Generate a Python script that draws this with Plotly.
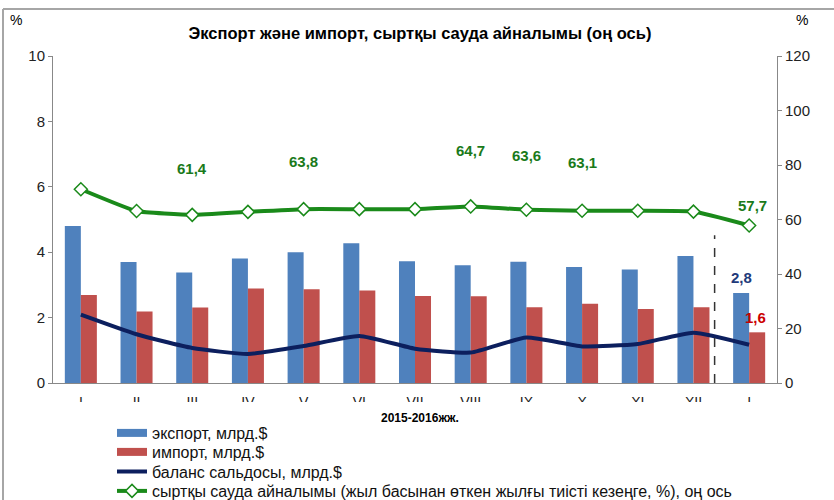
import plotly.graph_objects as go

months = ["I", "II", "III", "IV", "V", "VI", "VII", "VIII", "IX", "X", "XI", "XII", "I"]
export_vals = [4.80, 3.70, 3.38, 3.81, 4.00, 4.27, 3.72, 3.60, 3.71, 3.55, 3.47, 3.88, 2.75]
import_vals = [2.69, 2.19, 2.31, 2.89, 2.87, 2.83, 2.66, 2.65, 2.32, 2.42, 2.26, 2.32, 1.55]
balance_vals = [2.09, 1.49, 1.07, 0.89, 1.13, 1.44, 1.05, 0.93, 1.39, 1.12, 1.19, 1.54, 1.17]
turnover_vals = [71.1, 63.1, 61.7, 62.8, 63.8, 63.8, 63.8, 64.8, 63.6, 63.2, 63.2, 62.9, 57.8]
turnover_labels = ["", "", "61,4", "", "63,8", "", "", "64,7", "63,6", "63,1", "", "", "57,7"]
last_export_label = "2,8"
last_import_label = "1,6"

names = ["экспорт, млрд.$", "импорт, млрд.$", "баланс сальдосы, млрд.$",
         "сыртқы сауда айналымы (жыл басынан өткен жылғы тиісті кезеңге, %), оң ось"]

FONT = "Liberation Sans, Arial, sans-serif"
BLUE, RED, NAVY, GREEN = "#4F81BD", "#C0504D", "#0C1F5E", "#1A8A1A"
xs = list(range(len(months)))

fig = go.Figure()
fig.add_trace(go.Bar(x=xs, y=export_vals, name=names[0], marker_color=BLUE,
                     marker_line_width=0, showlegend=False))
fig.add_trace(go.Bar(x=xs, y=import_vals, name=names[1], marker_color=RED,
                     marker_line_width=0, showlegend=False))
# legend-only entries drawn as wide bands, like the reference's legend keys
fig.add_trace(go.Scatter(x=[None], y=[None], name=names[0], mode="lines",
                         line=dict(color=BLUE, width=8), legend="legend"))
fig.add_trace(go.Scatter(x=[None], y=[None], name=names[1], mode="lines",
                         line=dict(color=RED, width=8), legend="legend2"))
fig.add_trace(go.Scatter(x=xs, y=balance_vals, name=names[2], mode="lines", legend="legend3",
                         line=dict(color=NAVY, width=4, shape="spline", smoothing=0.5)))
fig.add_trace(go.Scatter(x=xs, y=turnover_vals, name=names[3], mode="lines+markers", yaxis="y2",
                         legend="legend4",
                         line=dict(color=GREEN, width=4, shape="spline", smoothing=0.4),
                         marker=dict(symbol="diamond", size=10, color="white",
                                     line=dict(color=GREEN, width=1.5))))

annotations = []
shifts = [0, 0, 46, 0, 48, 0, 0, 56, 54, 48, 0, 0, 20]
for i, lab in enumerate(turnover_labels):
    if lab:
        annotations.append(dict(x=i, y=turnover_vals[i], yref="y2", text=f"<b>{lab}</b>",
                                showarrow=False, yshift=shifts[i], xshift=3 if i == 12 else 0,
                                font=dict(family=FONT, size=15, color="#1A7A1A")))
annotations.append(dict(x=12, y=export_vals[12], xshift=-8, yshift=16, showarrow=False,
                        text=f"<b>{last_export_label}</b>",
                        font=dict(family=FONT, size=15, color="#1F3A7A")))
annotations.append(dict(x=12, y=import_vals[12], xshift=6, yshift=15, showarrow=False,
                        text=f"<b>{last_import_label}</b>",
                        font=dict(family=FONT, size=15, color="#CC0000")))
annotations.append(dict(xref="paper", yref="paper", x=(420 - 53) / 724, y=(383 - 418) / 327,
                        xanchor="center", yanchor="middle",
                        text="<b>2015-2016жж.</b>", showarrow=False,
                        font=dict(family=FONT, size=12, color="black")))
annotations.append(dict(xref="paper", yref="paper", x=(16 - 53) / 724, y=(383 - 20) / 327,
                        xanchor="center", yanchor="middle",
                        text="%", showarrow=False, font=dict(family=FONT, size=14, color="black")))
annotations.append(dict(xref="paper", yref="paper", x=(802 - 53) / 724, y=(383 - 20) / 327,
                        xanchor="center", yanchor="middle",
                        text="%", showarrow=False, font=dict(family=FONT, size=14, color="black")))

shapes = [
    dict(type="line", xref="x", yref="y", x0=11.38, x1=11.38, y0=0, y1=4.52,
         line=dict(color="#333333", width=1.5, dash="dash")),
    dict(type="rect", xref="paper", yref="paper", layer="above",
         x0=-0.07, x1=1.1, y0=(383 - 425) / 327, y1=(383 - 402) / 327,
         fillcolor="white", line=dict(width=0)),
    dict(type="line", xref="paper", yref="paper", x0=(3 - 53) / 724, x1=(840 - 53) / 724,
         y0=(383 - 9) / 327, y1=(383 - 9) / 327, line=dict(color="#A6A6A6", width=2)),
    dict(type="line", xref="paper", yref="paper", x0=(3 - 53) / 724, x1=(3 - 53) / 724,
         y0=(383 - 9) / 327, y1=(383 - 505) / 327, line=dict(color="#A6A6A6", width=2)),
]


def legend_at(row_y):
    return dict(x=(112 - 53) / 724, y=(383 - row_y) / 327, xanchor="left", yanchor="middle",
                bgcolor="rgba(0,0,0,0)", font=dict(family=FONT, size=16, color="#111111"),
                itemwidth=30)


fig.update_layout(
    width=834, height=500,
    margin=dict(l=53, r=57, t=56, b=117, autoexpand=False),
    paper_bgcolor="white", plot_bgcolor="white",
    font=dict(family=FONT, size=14, color="#222222"),
    barmode="group", bargap=0.425, bargroupgap=0,
    title=dict(text="<b>Экспорт және импорт, сыртқы сауда айналымы (оң ось)</b>",
               x=420 / 834, xanchor="center", y=1 - 33 / 500, yanchor="middle",
               font=dict(family=FONT, size=16.5, color="black")),
    xaxis=dict(tickmode="array", tickvals=xs, ticktext=months, range=[-0.5, 12.5],
               showline=True, linecolor="#888888", linewidth=1, ticks="outside", ticklen=6,
               tickcolor="rgba(0,0,0,0)", showgrid=False,
               tickfont=dict(size=14, color="#222222"), zeroline=False),
    yaxis=dict(range=[0, 10], dtick=2, showline=True, linecolor="#888888", linewidth=1,
               ticks="outside", ticklen=4, tickcolor="#888888", showgrid=False, zeroline=False,
               tickfont=dict(size=15)),
    yaxis2=dict(range=[0, 120], dtick=20, overlaying="y", side="right", showline=True,
                linecolor="#888888", linewidth=1, ticks="outside", ticklen=4,
                tickcolor="#888888", showgrid=False, zeroline=False, tickfont=dict(size=15)),
    legend=legend_at(433),
    legend2=legend_at(452),
    legend3=legend_at(471.5),
    legend4=legend_at(491),
    annotations=annotations,
    shapes=shapes,
    showlegend=True,
)

fig.write_html("out.html", post_script="document.body.style.margin='0';",
               config={"displayModeBar": False})
